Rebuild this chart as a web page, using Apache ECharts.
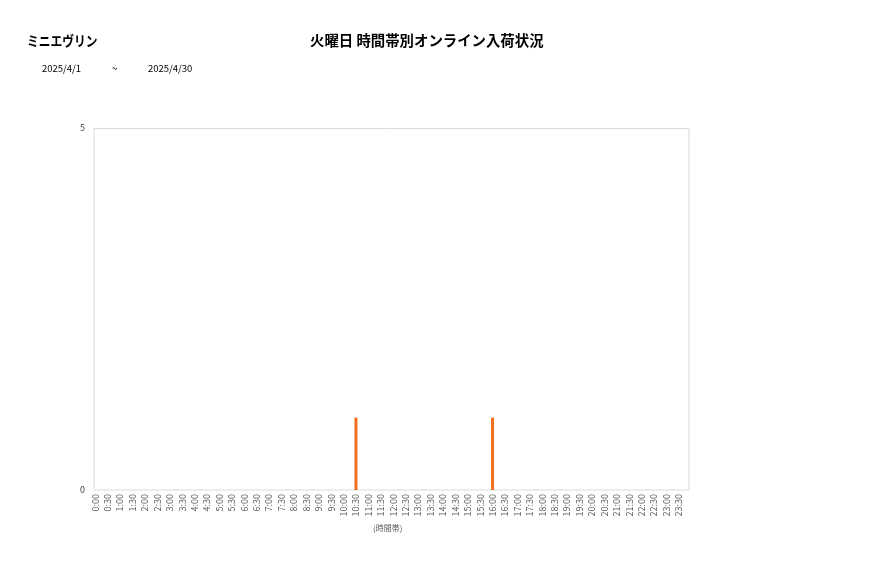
<!DOCTYPE html>
<html><head><meta charset="utf-8">
<script src="https://cdn.jsdelivr.net/npm/echarts@6/dist/echarts.min.js"></script>
<style>html,body{margin:0;padding:0;background:#fff;}#c{width:877px;height:578px;}</style>
</head><body><div id="c"></div>
<script>
const categories = ["0:00","0:30","1:00","1:30","2:00","2:30","3:00","3:30","4:00","4:30","5:00","5:30","6:00","6:30","7:00","7:30","8:00","8:30","9:00","9:30","10:00","10:30","11:00","11:30","12:00","12:30","13:00","13:30","14:00","14:30","15:00","15:30","16:00","16:30","17:00","17:30","18:00","18:30","19:00","19:30","20:00","20:30","21:00","21:30","22:00","22:30","23:00","23:30"];
const values = [0,0,0,0,0,0,0,0,0,0,0,0,0,0,0,0,0,0,0,0,0,1,0,0,0,0,0,0,0,0,0,0,1,0,0,0,0,0,0,0,0,0,0,0,0,0,0,0];
const yTicks = [0,5];
const titleText = "火曜日 時間帯別オンライン入荷状況";
const storeName = "ミニエヴリン";
const dateFrom = "2025/4/1";
const dateTo = "2025/4/30";
const xName = "(時間帯)";

const font = '"Noto Sans CJK JP", "Noto Sans", sans-serif';
const chart = echarts.init(document.getElementById('c'), null, {renderer:'canvas'});
chart.setOption({
  backgroundColor:'#fff',
  animation:false,
  textStyle:{fontFamily:font},
  graphic:[
    {type:'rect', shape:{x:94, y:128.5, width:595, height:361.5}, style:{fill:null, stroke:'#d9d9d9', lineWidth:1}, z:0},
    {type:'text', x:27, y:34, scaleX:0.84, style:{text:storeName, font:'bold 14px '+font, fill:'#000'}},
    {type:'text', x:310, y:33, style:{text:titleText, font:'bold 14.4px '+font, fill:'#000'}},
    {type:'text', left:42, top:64, style:{text:dateFrom, font:'9.5px '+font, fill:'#000'}},
    {type:'text', left:112, top:64, style:{text:'~', font:'9.5px '+font, fill:'#000'}},
    {type:'text', left:148, top:64, style:{text:dateTo, font:'9.5px '+font, fill:'#000'}},
    {type:'text', left:373, top:524, style:{text:xName, font:'8px '+font, fill:'#595959'}}
  ],
  grid:{left:89, top:128, width:596, height:362, containLabel:false},
  xAxis:{
    type:'category', data:categories, boundaryGap:true,
    axisLine:{show:false}, axisTick:{show:false},
    axisLabel:{rotate:90, interval:0, fontSize:9, color:'#595959', margin:4, fontFamily:font}
  },
  yAxis:{
    type:'value', min:yTicks[0], max:yTicks[1], interval:yTicks[1]-yTicks[0],
    axisLine:{show:false}, axisTick:{show:false}, splitLine:{show:false},
    axisLabel:{fontSize:9, color:'#404040', margin:4, fontFamily:font}
  },
  series:[{
    type:'bar', data:values, barWidth:3,
    itemStyle:{color:'#f26f21'}
  }]
});
</script></body></html>
